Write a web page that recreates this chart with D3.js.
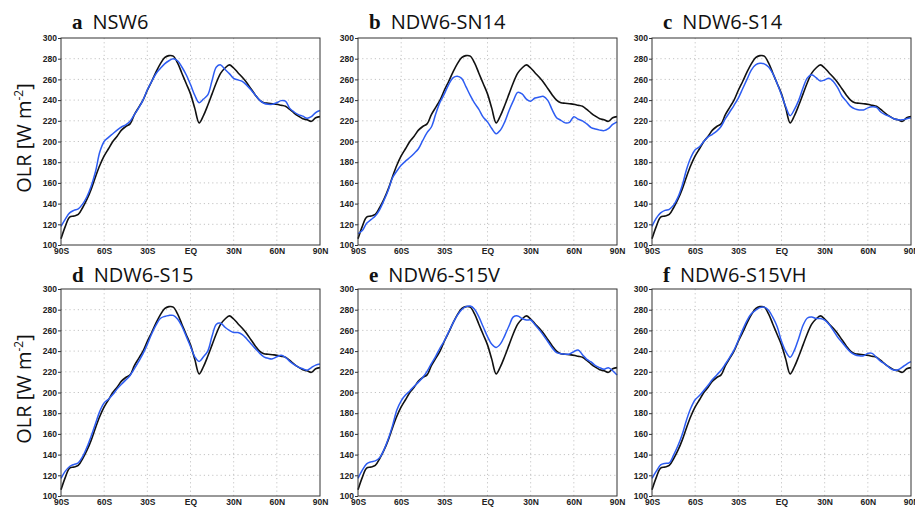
<!DOCTYPE html>
<html>
<head>
<meta charset="utf-8">
<script src="https://cdn.jsdelivr.net/npm/d3@7"></script>
<style>
  html, body { margin: 0; padding: 0; background: #fff; }
  svg { display: block; }
</style>
</head>
<body>
<svg id="chart" width="915" height="509"></svg>
<script>
// Zonal-mean OLR (W m^-2) against latitude, sampled every 3 degrees from 90S to 90N
const latitudes = d3.range(-90, 90.001, 3);

const latTicks = [-90, -60, -30, 0, 30, 60, 90];
const latTickLabels = ["90S", "60S", "30S", "EQ", "30N", "60N", "90N"];
const olrTicks = [100, 120, 140, 160, 180, 200, 220, 240, 260, 280, 300];

// Reference curve (black), shared by every panel
const olrReference = [
  106, 118, 127, 128, 129.5, 136, 144, 154, 166, 177, 186, 193, 200, 205, 211, 214.5,
  217, 226, 233, 240, 249.5, 258, 267, 275, 281, 283, 282.5, 276, 266, 256, 246,
  232, 218, 225, 235, 246, 257, 266, 271, 274, 271, 266.5, 262, 257, 251, 245,
  240, 237.5, 237, 236.5, 236, 235, 234, 231, 227.5, 224.5, 222, 221, 219.5, 223, 224
];

// Model experiments (blue), one per panel
const olrNSW6 = [
  118, 125, 131, 133.5, 135, 139.5, 146.6, 157, 171, 190, 200, 204, 207.5, 211, 214, 216,
  219.5, 226, 232.5, 240, 250, 258, 265.5, 270.5, 275, 278, 280, 278, 272, 264.5, 255,
  244.5, 237.5, 241, 245, 259, 272, 274, 269.5, 265.6, 261, 259.5, 258, 254.5, 250, 245,
  240, 237, 236, 236, 237.5, 239.5, 239, 232, 228.5, 226, 224.5, 222.5, 224, 228, 230
];
const olrSN14 = [
  111, 114, 121, 124.5, 128, 134, 143, 153, 165, 171.5, 177, 181, 184.5, 188.5, 193, 201,
  208.5, 214, 226.5, 238, 246, 255, 261.5, 263, 261, 253, 244.5, 237, 231, 223.5, 219,
  212.5, 207.5, 211, 219, 230, 239.5, 247.5, 246, 241, 239, 242, 243, 243.5, 239.5, 230.5,
  223, 220.5, 218, 218.5, 224, 221.5, 220, 217, 213.5, 212, 211, 210.5, 212.5, 216.5, 219
];
const olrS14 = [
  118, 126, 131, 133.5, 134.5, 138.5, 146, 157.5, 173, 184.5, 192, 195, 200, 204.5, 207, 210,
  214.5, 222, 228.5, 235, 242, 251, 260, 269, 274, 275.5, 275, 272, 265.5, 256, 245,
  233.5, 225, 231, 240, 252, 261.5, 264.5, 261.7, 258.5, 259.5, 261, 258, 252, 244, 239,
  234, 231.5, 230.5, 230.5, 232.5, 233.5, 233, 228.5, 226, 224.3, 222, 221, 221, 222, 223
];
const olrS15 = [
  117, 124, 128.5, 130.5, 132, 138, 147, 158, 170, 182, 190, 193.5, 198, 203.5, 208, 212,
  216.5, 223, 230, 237.5, 246.5, 256.5, 265, 271.5, 273.5, 274.5, 274.5, 271, 264, 254.5, 244.5,
  234.5, 230, 234.5, 240, 254.5, 266, 267, 263, 260, 258, 258, 256, 252, 247, 242.5,
  238, 234.5, 233, 232.5, 234.5, 236, 234, 230, 227, 224.5, 223, 221.5, 224, 226.5, 227.5
];
const olrS15V = [
  117, 125, 131, 133, 134, 137, 144.5, 155, 168, 183, 192, 197.5, 201.5, 206, 210, 214.5,
  220.5, 228, 235, 243, 250, 258.5, 267, 274.5, 280, 283, 283.5, 280.5, 273, 263.5, 254,
  246.5, 243.5, 247, 255, 264.5, 273, 274, 271.5, 270, 270, 265.5, 260.5, 255, 249, 243,
  238.5, 237.5, 237, 237.2, 239.5, 241, 236.5, 232, 229.5, 226, 224, 222.4, 224, 221, 217
];
const olrS15VH = [
  117, 124, 130, 131.5, 132, 139.5, 148.5, 159.5, 173.5, 185, 193, 197, 202, 207, 212.5, 217,
  221.5, 227.5, 234, 241, 250.5, 260.5, 269.5, 276, 279.5, 282, 282.5, 279.5, 272.5, 263.5, 249.5,
  239.5, 234, 241, 252.5, 265, 272, 273, 271.5, 271.5, 270, 266, 260, 253.5, 248.5, 243.5,
  239, 236.5, 235.5, 235.5, 237.8, 237.8, 234, 230, 227.5, 224, 221.7, 222, 224.5, 227.5, 229.8
];

const panelLetters = ["a", "b", "c", "d", "e", "f"];
const panelNames = ["NSW6", "NDW6-SN14", "NDW6-S14", "NDW6-S15", "NDW6-S15V", "NDW6-S15VH"];
const panelSeries = [olrNSW6, olrSN14, olrS14, olrS15, olrS15V, olrS15VH];

// Layout of the 2 x 3 grid of plots
const colLeft = [61, 358, 652];
const rowTop = [38, 289];
const titleOffset = [-9.5, -7];
const plotW = 259;
const plotH = 207;

const svg = d3.select("#chart");

const x = d3.scaleLinear().domain([-90, 90]).range([0, plotW]);
const y = d3.scaleLinear().domain([100, 300]).range([plotH, 0]);

const line = d3.line()
  .x((d, i) => x(latitudes[i]))
  .y(d => y(d))
  .curve(d3.curveCatmullRom.alpha(0.5));

panelSeries.forEach((series, p) => {
  const col = p % 3, row = Math.floor(p / 3);
  const g = svg.append("g").attr("transform", `translate(${colLeft[col]},${rowTop[row]})`);

  // dotted grid
  g.append("g").selectAll("line")
    .data(latTicks.slice(1, -1)).join("line")
    .attr("x1", d => x(d)).attr("x2", d => x(d))
    .attr("y1", 0).attr("y2", plotH)
    .attr("stroke", "#c4c4c4").attr("stroke-width", 1)
    .attr("stroke-dasharray", "1.2,3");
  g.append("g").selectAll("line")
    .data(olrTicks.slice(1, -1)).join("line")
    .attr("x1", 0).attr("x2", plotW)
    .attr("y1", d => y(d)).attr("y2", d => y(d))
    .attr("stroke", "#c4c4c4").attr("stroke-width", 1)
    .attr("stroke-dasharray", "1.2,3");

  // axes
  const yAxis = d3.axisLeft(y).tickValues(olrTicks).tickSize(3).tickPadding(1);
  const xAxis = d3.axisBottom(x).tickValues(latTicks).tickSize(0).tickPadding(3)
    .tickFormat((d, i) => latTickLabels[i]);

  const ya = g.append("g").call(yAxis);
  const xa = g.append("g").attr("transform", `translate(0,${plotH})`).call(xAxis);
  [ya, xa].forEach(a => {
    a.select(".domain").remove();
    a.selectAll("line").attr("stroke", "#333");
    a.selectAll("text")
      .attr("font-family", "'Liberation Sans', Arial, sans-serif")
      .attr("font-weight", "bold")
      .attr("font-size", 8.5)
      .attr("fill", "#222");
  });

  // curves
  g.append("path").datum(olrReference)
    .attr("d", line).attr("fill", "none")
    .attr("stroke", "#111").attr("stroke-width", 1.6);
  g.append("path").datum(series)
    .attr("d", line).attr("fill", "none")
    .attr("stroke", "#2d5cf2").attr("stroke-width", 1.5);

  // frame
  g.append("rect").attr("width", plotW).attr("height", plotH)
    .attr("fill", "none").attr("stroke", "#333").attr("stroke-width", 1);

  // panel title
  const t = g.append("text").attr("x", 11).attr("y", titleOffset[row]).attr("fill", "#111");
  t.append("tspan").text(panelLetters[p])
    .attr("font-family", "'Liberation Serif', 'Times New Roman', serif")
    .attr("font-weight", "bold").attr("font-size", 21);
  t.append("tspan").text(panelNames[p]).attr("dx", 10)
    .attr("font-family", "'Open Sans', sans-serif").attr("font-size", 20);

  // y-axis title on the left column only
  if (col === 0) {
    const yt = svg.append("text")
      .attr("transform", `translate(31,${rowTop[row] + 100}) rotate(-90)`)
      .attr("text-anchor", "middle")
      .attr("font-family", "'Open Sans', sans-serif")
      .attr("font-size", 20).attr("fill", "#111");
    yt.append("tspan").text("OLR [W m");
    yt.append("tspan").text("-2").attr("font-size", 12).attr("dy", -8);
    yt.append("tspan").text("]").attr("dy", 8);
  }
});
</script>
</body>
</html>
